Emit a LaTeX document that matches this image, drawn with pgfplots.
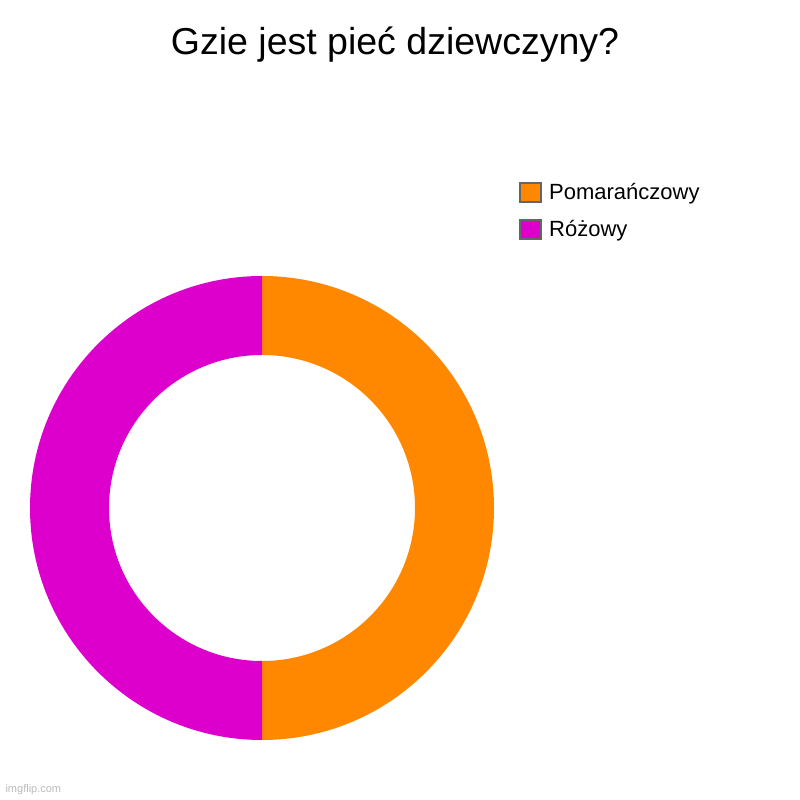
\documentclass[border=0pt]{standalone}
\usepackage{pgfplots}
\usepackage{pgfplotstable}
\pgfplotsset{compat=1.18}
\usepackage{fontspec}
\setmainfont{Liberation Sans}

\definecolor{sliceA}{HTML}{FF8800}
\definecolor{sliceB}{HTML}{DD00CC}
\definecolor{boxline}{HTML}{666666}
\definecolor{wm}{HTML}{BBBBBB}

% slices, clockwise from the top
\pgfplotstableread{
label value
Pomarańczowy 50
Różowy 50
}\slices

\begin{document}
\begin{tikzpicture}
\begin{axis}[
    hide axis,
    scale only axis,
    width=800pt, height=800pt,
    xmin=0, xmax=800, ymin=0, ymax=800,
    clip=false,
]
\path (axis cs:0,0) rectangle (axis cs:800,800);

\pgfplotstablegetelem{0}{value}\of\slices \edef\va{\pgfplotsretval}
\pgfplotstablegetelem{1}{value}\of\slices \edef\vb{\pgfplotsretval}
\pgfmathsetmacro\tot{\va+\vb}
\pgfmathsetmacro\fa{\va/\tot}
\pgfmathsetmacro\fb{\vb/\tot}
\pgfmathsetmacro\aa{90-360*\fa}
\pgfmathsetmacro\ab{\aa-360*\fb}

\begin{scope}[shift={(axis cs:262,292)}]
  \fill[sliceA] (90:232pt) arc[start angle=90, end angle=\aa, radius=232pt]
     -- (\aa:153pt) arc[start angle=\aa, end angle=90, radius=153pt] -- cycle;
  \fill[sliceB] (\aa:232pt) arc[start angle=\aa, end angle=\ab, radius=232pt]
     -- (\ab:153pt) arc[start angle=\ab, end angle=\aa, radius=153pt] -- cycle;
\end{scope}

\node[font=\fontsize{37.5}{42}\selectfont] at (axis cs:395,755) {Gzie jest pieć dziewczyny?};

\filldraw[fill=sliceA, draw=boxline, line width=2pt] (axis cs:520,598) rectangle (axis cs:541,617);
\filldraw[fill=sliceB, draw=boxline, line width=2pt] (axis cs:520,561) rectangle (axis cs:541,580);
\node[anchor=west, inner sep=0pt, font=\fontsize{22}{26}\selectfont] at (axis cs:549,606) {Pomarańczowy};
\node[anchor=west, inner sep=0pt, font=\fontsize{22}{26}\selectfont] at (axis cs:549,569) {Różowy};

\node[anchor=west, text=wm, font=\fontsize{11}{13}\selectfont] at (axis cs:2,10) {imgflip.com};
\end{axis}
\end{tikzpicture}
\end{document}
